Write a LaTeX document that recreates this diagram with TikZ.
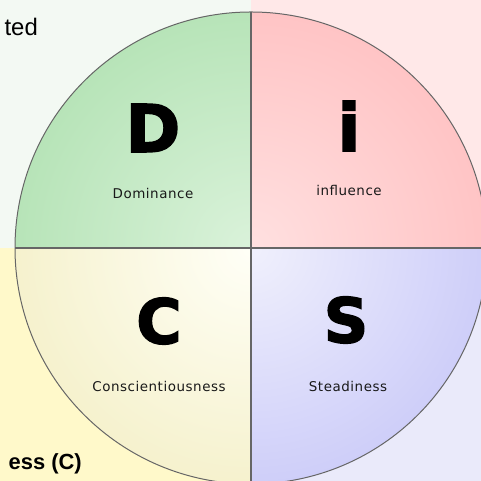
\documentclass[tikz,border=0pt]{standalone}
\usepackage{fontspec}
\setmainfont{Liberation Sans}
\newfontfamily\letterfont[FakeBold=2.5]{DejaVu Sans Bold}
\newfontfamily\labelfont[LetterSpace=4]{DejaVu Sans}

\definecolor{inD}{RGB}{218,242,218}
\definecolor{outD}{RGB}{148,214,150}
\definecolor{inI}{RGB}{255,224,224}
\definecolor{outI}{RGB}{255,168,170}
\definecolor{inC}{RGB}{255,255,247}
\definecolor{outC}{RGB}{236,228,164}
\definecolor{inS}{RGB}{240,240,252}
\definecolor{outS}{RGB}{172,172,246}
\definecolor{bgD}{RGB}{243,249,243}
\definecolor{bgI}{RGB}{255,232,232}
\definecolor{bgC}{RGB}{255,249,202}
\definecolor{bgS}{RGB}{234,234,250}

\newcommand{\quadrant}[4]
{   \begin{scope}
      \clip (ctr) -- ++(#1:236) arc (#1:#2:236) -- cycle;
      \shade[inner color=#3, outer color=#4] (ctr) circle (472);
    \end{scope}
}

\tikzset{
  letter/.style={inner sep=0pt, font=\letterfont\fontsize{66}{66}\selectfont},
  word/.style={inner sep=0pt, text=black!90, font=\labelfont\fontsize{13.5}{14}\selectfont},
  rim/.style={draw=black!60, line width=1bp},
  divider/.style={draw=black!60, line width=1.6bp}
}

\begin{document}
\begin{tikzpicture}[x=1bp,y=1bp]
 \useasboundingbox (0,0) rectangle (481,481);
 \clip (0,0) rectangle (481,481);
 \coordinate (ctr) at (251,233);

 \fill[bgD] (0,233) rectangle (251,481);
 \fill[bgI] (251,233) rectangle (481,481);
 \fill[bgC] (0,0) rectangle (251,233);
 \fill[bgS] (251,0) rectangle (481,233);

 \quadrant{90}{180}{inD}{outD}
 \quadrant{0}{90}{inI}{outI}
 \quadrant{180}{270}{inC}{outC}
 \quadrant{270}{360}{inS}{outS}

   \draw[rim] (ctr) circle (236);
   \draw[divider] (ctr) ++(0,-236) -- ++(0,472);
   \draw[divider] (ctr) ++(-236,0) -- ++(472,0);

   \node[letter] (D) at (153,353) {D};
   \node[letter] (i) at (349,355) {i};
   \node[letter, font=\letterfont\fontsize{62}{62}\selectfont] (C) at (159,160) {C};
   \node[letter, font=\letterfont\fontsize{62}{62}\selectfont] (S) at (346,161) {S};

   \node[word] (dom) at (153,288) {Dominance};
   \node[word] (inf) at (349,291) {influence};
   \node[word] (con) at (159,95) {Conscientiousness};
   \node[word] (ste) at (348,95) {Steadiness};

   \node[anchor=base east, inner sep=0pt, font=\fontsize{24}{24}\selectfont] (ted) at (38,445) {ted};
   \node[anchor=base east, inner sep=0pt, font=\bfseries\fontsize{22}{22}\selectfont] (ess) at (82,11) {ess (C)};

 \end{tikzpicture}
\end{document}
